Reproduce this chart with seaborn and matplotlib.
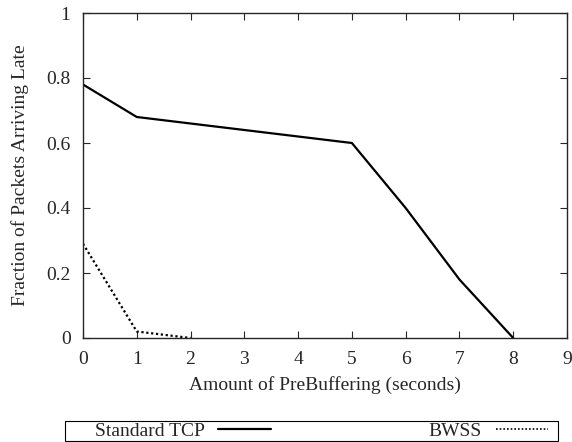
import matplotlib
matplotlib.use("Agg")
import matplotlib.pyplot as plt
import matplotlib.patches as mpatches
from matplotlib.lines import Line2D
import seaborn as sns
import pandas as pd

tcp_x = [0, 1, 5, 6, 7, 8]
tcp_y = [0.78, 0.68, 0.60, 0.40, 0.18, 0.0]
bwss_x = [0, 1, 2]
bwss_y = [0.29, 0.02, 0.0]
x_ticks = [0, 1, 2, 3, 4, 5, 6, 7, 8, 9]
y_ticks = [0, 0.2, 0.4, 0.6, 0.8, 1]
y_labels = ["0", "0.2", "0.4", "0.6", "0.8", "1"]

sns.set_style("ticks")
plt.rcParams['font.family'] = ['Liberation Serif', 'DejaVu Serif']

df = pd.concat([
    pd.DataFrame({"x": tcp_x, "y": tcp_y, "series": "Standard TCP"}),
    pd.DataFrame({"x": bwss_x, "y": bwss_y, "series": "BWSS"}),
])

FS = 14
fig = plt.figure(figsize=(5.72, 4.42), dpi=100)
ax = fig.add_axes([83/572, 1-338/442, (567-83)/572, (338-13)/442])
sns.lineplot(data=df, x="x", y="y", hue="series", style="series",
             palette={"Standard TCP": "black", "BWSS": "black"},
             dashes={"Standard TCP": "", "BWSS": (1, 1.2)},
             linewidth=1.6, ax=ax, legend=False)
ax.set_xlim(0, 9)
ax.set_ylim(0, 1)
ax.set_xticks(x_ticks)
ax.set_yticks(y_ticks)
ax.set_yticklabels(y_labels)
ax.tick_params(direction="in", top=True, right=True, length=5, labelsize=FS, width=0.8, pad=9)
for s in ax.spines.values():
    s.set_linewidth(1.0)
ax.set_xlabel("Amount of PreBuffering (seconds)", fontsize=FS, labelpad=6)
ax.set_ylabel("Fraction of Packets Arriving Late", fontsize=FS, labelpad=12)

# legend box
fig.patches.append(mpatches.Rectangle((65/572, 1/442), (558-65)/572, 20/442,
                                      transform=fig.transFigure, fill=False,
                                      edgecolor="black", linewidth=0.8))
handles = [Line2D([], [], color="black", lw=1.6),
           Line2D([], [], color="black", lw=1.2, linestyle=(0, (1, 1.2)))]
leg = fig.legend(handles, ["Standard TCP", "BWSS"], loc="center left",
                 bbox_to_anchor=(95/572, 1/442, (548-95)/572, 20/442),
                 ncol=2, mode="expand", markerfirst=False, fontsize=FS,
                 frameon=False, borderpad=0, handlelength=2.7,
                 handletextpad=0.7, borderaxespad=0)
fig.savefig("out.png", dpi=100)
